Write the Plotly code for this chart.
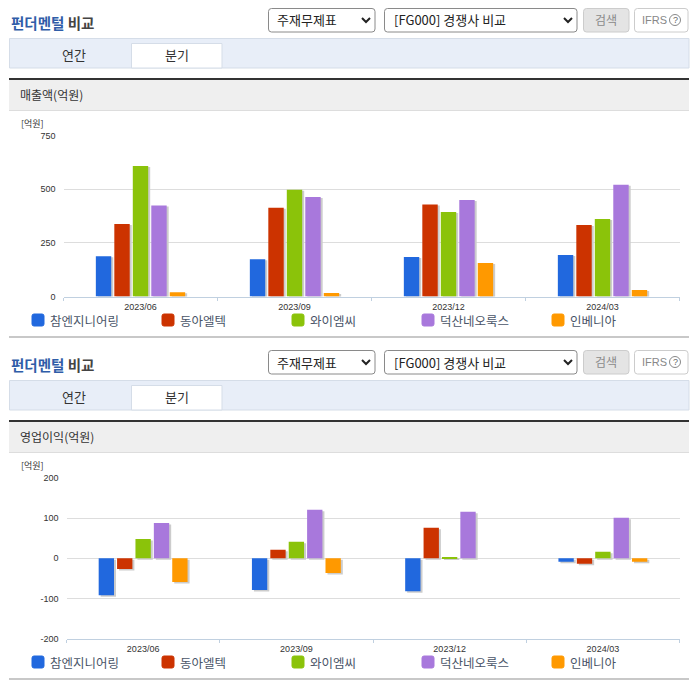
import plotly.graph_objects as go

W, H = 696, 684
KR = "Noto Sans CJK KR"
LATIN = "Liberation Sans"

quarters = ["2023/06", "2023/09", "2023/12", "2024/03"]
companies = ["참엔지니어링", "동아엘텍", "와이엠씨", "덕산네오룩스", "인베니아"]
colors = ["#2168de", "#cc3300", "#8bc30a", "#a878dc", "#ff9900"]

# 매출액 (억원), one list per company
sales_chamengineering = [188, 174, 184, 193]
sales_donga = [338, 413, 428, 333]
sales_ymc = [608, 497, 394, 361]
sales_duksan = [424, 464, 450, 520]
sales_invenia = [20, 16, 156, 30]

# 영업이익 (억원)
profit_chamengineering = [-92, -79, -82, -9]
profit_donga = [-27, 21, 76, -14]
profit_ymc = [48, 41, 3, 16]
profit_duksan = [88, 121, 116, 101]
profit_invenia = [-59, -37, 0, -9]

sales = [sales_chamengineering, sales_donga, sales_ymc, sales_duksan, sales_invenia]
profit = [profit_chamengineering, profit_donga, profit_ymc, profit_duksan, profit_invenia]

sales_ticks = [0, 250, 500, 750]
profit_ticks = [-200, -100, 0, 100, 200]

fig = go.Figure()
shapes = []
notes = []


def px(x):
    return x / W


def py(y):
    return 1 - y / H


def rect(x0, y0, x1, y1, fill, line=None, r=0):
    if r:
        a, b, c, d = px(x0), py(y0), px(x1), py(y1)
        rx, ry = r / W, r / H
        path = (f"M{a + rx},{b} L{c - rx},{b} Q{c},{b} {c},{b - ry} L{c},{d + ry} Q{c},{d} {c - rx},{d} "
                f"L{a + rx},{d} Q{a},{d} {a},{d + ry} L{a},{b - ry} Q{a},{b} {a + rx},{b} Z")
        shapes.append(dict(type="path", path=path, xref="paper", yref="paper", fillcolor=fill,
                           line=dict(color=line or fill, width=1), layer="below"))
    else:
        shapes.append(dict(type="rect", xref="paper", yref="paper", x0=px(x0), x1=px(x1), y0=py(y0), y1=py(y1),
                           fillcolor=fill, line=dict(color=line or fill, width=1 if line else 0), layer="below"))


def text(x, y, s, size=13, color="#333333", anchor="left", family=KR):
    notes.append(dict(x=px(x), y=py(y), xref="paper", yref="paper", text=s, showarrow=False,
                      xanchor=anchor, yanchor="middle", borderpad=0,
                      font=dict(family=family, size=size, color=color)))


def chevron(x, y):
    path = f"M{px(x - 4)},{py(y - 2)} L{px(x)},{py(y + 2)} L{px(x + 4)},{py(y - 2)}"
    shapes.append(dict(type="path", path=path, xref="paper", yref="paper", line=dict(color="#222222", width=2)))


def header(dy, section):
    text(10, 23 + dy, '<b><span style="color:#2f5da8">펀더멘털</span> <span style="color:#444444">비교</span></b>', 14.5)
    rect(268.5, 8.5 + dy, 375, 32 + dy, "#ffffff", "#8a8a8a", 3)
    text(276, 20 + dy, "주재무제표", 13, "#222222")
    chevron(366, 20 + dy)
    rect(384.5, 8.5 + dy, 577, 32 + dy, "#ffffff", "#8a8a8a", 3)
    text(393, 20 + dy, "[FG000] 경쟁사 비교", 13, "#222222")
    chevron(568, 20 + dy)
    rect(583.5, 8.5 + dy, 629, 32 + dy, "#e4e4e4", "#cccccc", 3)
    text(606, 19 + dy, "검색", 12, "#8a8a8a", "center")
    rect(634.5, 8.5 + dy, 688, 32 + dy, "#ffffff", "#cccccc", 3)
    text(641, 20 + dy, "IFRS", 11, "#888888", family=LATIN)
    shapes.append(dict(type="circle", xref="paper", yref="paper", x0=px(669.5), x1=px(680.5), y0=py(14.5 + dy),
                       y1=py(25.5 + dy), line=dict(color="#888888", width=1), layer="below"))
    text(675, 20 + dy, "?", 9, "#666666", "center", LATIN)

    rect(9.5, 38.5 + dy, 689, 68 + dy, "#e8eef8", "#d5dde8")
    rect(131.5, 43.5 + dy, 222, 68 + dy, "#ffffff", "#d5dde8")
    text(74, 55 + dy, "연간", 13, "#333333", "center")
    text(177, 55 + dy, "분기", 13, "#333333", "center")

    rect(9, 80 + dy, 689, 110 + dy, "#efefef")
    rect(9, 78 + dy, 689, 80 + dy, "#333333")
    rect(9, 110 + dy, 689, 111 + dy, "#dddddd")
    text(19, 95 + dy, section, 12, "#333333")


def legend_row(y):
    for i, (name, color) in enumerate(zip(companies, colors)):
        x0 = 32 + 130 * i
        rect(x0, y - 6, x0 + 12, y + 6, color, None, 2)
        text(x0 + 17, y, name, 12.5, "#4a5568")


def add_chart(series, ticks, xname, yname, x0, x1, ytop, ybot, shadow_px):
    xaxis = "x" if xname == "xaxis" else "x" + xname[5:]
    yaxis = "y" if yname == "yaxis" else "y" + yname[5:]
    lo, hi = ticks[0], ticks[-1]
    unit = (hi - lo) / (ybot - ytop)
    dx = 2 / (x1 - x0) * 4
    for i, vals in enumerate(series):
        fig.add_trace(go.Bar(x=quarters, y=vals, base=-shadow_px * unit, width=0.1,
                             offset=-0.3 + 0.12 * i + 0.01 + dx, marker=dict(color="#cccccc", line_width=0),
                             xaxis=xaxis, yaxis=yaxis, showlegend=False, hoverinfo="skip"))
    for i, vals in enumerate(series):
        fig.add_trace(go.Bar(x=quarters, y=vals, width=0.1, offset=-0.3 + 0.12 * i + 0.01,
                             marker=dict(color=colors[i], line_width=0), name=companies[i],
                             xaxis=xaxis, yaxis=yaxis, showlegend=False))
    fig.update_layout({
        xname: dict(domain=[px(x0), px(x1)], anchor=yaxis, type="category", range=[-0.5, 3.5], tickson="boundaries",
                    ticks="outside", ticklen=3, tickcolor="#c0d0e0", showline=True, linecolor="#c0d0e0",
                    showgrid=False, zeroline=False, automargin=False, ticklabelstandoff=2,
                    tickfont=dict(family=LATIN, size=9, color="#333333")),
        yname: dict(domain=[py(ybot), py(ytop)], anchor=xaxis, range=[lo, hi], tickvals=ticks,
                    ticktext=[str(t) for t in ticks], showgrid=True,
                    gridcolor="#dddddd", gridwidth=1, zeroline=False, showline=False, ticks="", automargin=False,
                    ticklabelstandoff=7, tickfont=dict(family=LATIN, size=9, color="#333333")),
    })


header(0, "매출액(억원)")
header(342, "영업이익(억원)")

add_chart(sales, sales_ticks, "xaxis", "yaxis", 63.5, 679.5, 135.5, 296.5, 1)
add_chart(profit, profit_ticks, "xaxis2", "yaxis2", 66.5, 679.5, 478, 638.5, 1.5)

text(20, 123, "[억원]", 9, "#333333")
text(20, 465, "[억원]", 9, "#333333")
legend_row(320)
legend_row(662)
rect(9, 336, 689, 338, "#c8c8c8")
rect(9, 678, 689, 680, "#c8c8c8")

fig.update_layout(width=W, height=H, margin=dict(l=0, r=0, t=0, b=0), barmode="overlay",
                  paper_bgcolor="#ffffff", plot_bgcolor="rgba(0,0,0,0)", shapes=shapes, annotations=notes,
                  font=dict(family=KR))

fig.write_html("out.html", config={"displayModeBar": False},
               post_script="document.body.style.margin='0';document.body.style.overflow='hidden';")
